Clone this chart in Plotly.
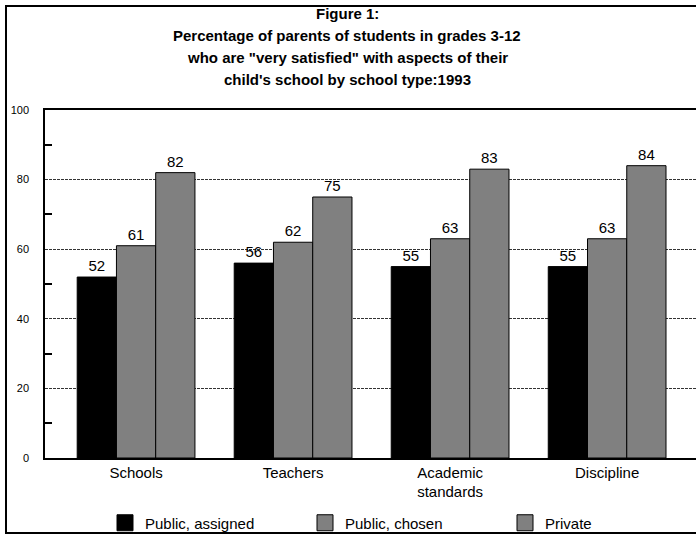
import plotly.graph_objects as go

categories = ["Schools", "Teachers", "Academic<br>standards", "Discipline"]
public_assigned = [52, 56, 55, 55]
public_chosen = [61, 62, 63, 63]
private = [82, 75, 83, 84]
series_names = ["Public, assigned", "Public, chosen", "Private"]
series_colors = ["#000000", "#808080", "#808080"]
title_lines = [
    "Figure 1:",
    "Percentage of parents of students in grades 3-12",
    "who are \"very satisfied\" with aspects of their",
    "child's school by school type:1993",
]
y_ticks = [0, 20, 40, 60, 80, 100]

FONT = "Liberation Sans, Arial, sans-serif"
W, H = 696, 535
L, R, T, B = 45, 0, 110, 77
PW, PH = W - L - R, H - T - B


def px_to_paper_x(px):
    return (px - L) / PW


def px_to_paper_y(py):
    return (H - B - py) / PH


fig = go.Figure()
for name, vals, col in zip(series_names, [public_assigned, public_chosen, private], series_colors):
    fig.add_trace(go.Bar(
        x=categories, y=vals, name=name, showlegend=False, legendgroup=name,
        marker=dict(color=col, line=dict(color="#000000", width=1)),
        text=[str(v) for v in vals], textposition="outside",
        textfont=dict(family=FONT, size=15, color="#000000"),
        cliponaxis=False,
    ))
# legend entries with larger square keys
for name, col in zip(series_names, series_colors):
    fig.add_trace(go.Scatter(
        x=[None], y=[None], mode="markers", name=name, legendgroup=name,
        marker=dict(symbol="square", size=16, color=col, line=dict(color="#000000", width=1)),
        hoverinfo="skip",
    ))

annotations = []
for i, line in enumerate(title_lines):
    annotations.append(dict(
        text="<b>" + line + "</b>", xref="paper", yref="paper",
        x=px_to_paper_x(347), y=px_to_paper_y(14 + i * 21.7),
        xanchor="center", yanchor="middle", showarrow=False,
        font=dict(family=FONT, size=15, color="#000000"),
    ))

fig.update_layout(
    width=W, height=H,
    margin=dict(l=L, r=R, t=T, b=B, pad=0, autoexpand=False),
    paper_bgcolor="#ffffff", plot_bgcolor="#ffffff",
    barmode="group", bargap=0.25, bargroupgap=0,
    annotations=annotations,
    showlegend=True,
    legend=dict(
        orientation="h", x=px_to_paper_x(105), y=px_to_paper_y(523),
        xanchor="left", yanchor="middle",
        font=dict(family=FONT, size=15, color="#000000"),
        entrywidth=155, itemsizing="trace", traceorder="normal",
        bgcolor="rgba(0,0,0,0)",
    ),
    shapes=[dict(
        type="rect", xref="paper", yref="paper",
        x0=px_to_paper_x(6), x1=px_to_paper_x(720),
        y0=px_to_paper_y(533), y1=px_to_paper_y(6),
        line=dict(color="#000000", width=2), layer="below",
    )],
)
fig.update_xaxes(
    type="category", range=[-0.58, 3.566],
    showline=True, linecolor="#000000", linewidth=1.5,
    mirror=True, ticks="", showgrid=False,
    tickfont=dict(family=FONT, size=15, color="#000000"),
)
fig.update_yaxes(
    range=[0, 100], tickvals=y_ticks, ticktext=[str(v) for v in y_ticks],
    showline=True, linecolor="#000000", linewidth=1.5,
    ticks="", showgrid=True, gridcolor="#333333", gridwidth=1, griddash="3px,1px",
    zeroline=False,
    minor=dict(tickvals=[10, 30, 50, 70, 90], ticks="inside", ticklen=7, tickcolor="#000000", tickwidth=1.5, showgrid=False),
    tickfont=dict(family=FONT, size=11, color="#000000"),
    ticklabelstandoff=12,
)
fig.write_html("out.html")
